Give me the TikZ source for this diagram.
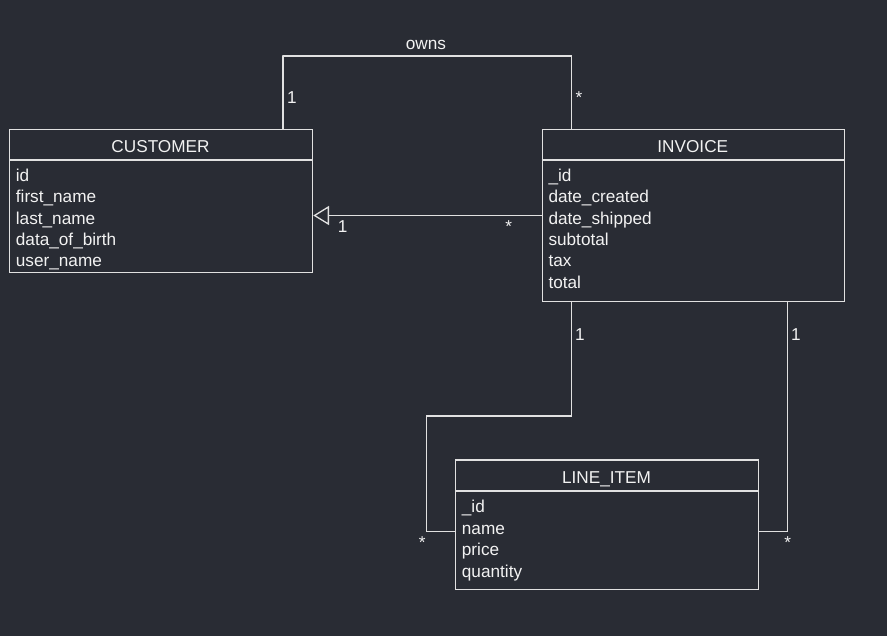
\documentclass[tikz,border=0pt]{standalone}
\usepackage{fontspec}
\setmainfont{Liberation Sans}
\usetikzlibrary{arrows.meta}
\definecolor{bgc}{RGB}{41,44,52}
\definecolor{lnc}{RGB}{225,225,225}
\definecolor{txc}{RGB}{242,242,242}
\begin{document}
\begin{tikzpicture}[x=1pt,y=-1pt,
  box/.style={draw=lnc,line width=1.3pt,fill=none,rectangle,inner sep=0pt,anchor=north west},
  sep/.style={draw=lnc,line width=1.3pt},
  conn/.style={draw=lnc,line width=1.3pt},
  txt/.style={text=txc,inner sep=0pt,font=\fontsize{17.2}{20}\selectfont},
  field/.style={txt,anchor=base west},
  head/.style={txt,anchor=base},
  lbl/.style={txt,anchor=base}]
\fill[bgc] (0,0) rectangle (887,636);
\useasboundingbox (0,0) rectangle (887,636);
% boxes
\node[box,minimum width=303pt,minimum height=143pt] (customer) at (9,128.7) {};
\node[box,minimum width=302.3pt,minimum height=172.3pt] (invoice) at (541.7,128.7) {};
\node[box,minimum width=303pt,minimum height=129.4pt] (lineitem) at (455,459.3) {};
% header separators
\draw[sep] ([yshift=-31.3pt]customer.north west) -- ([yshift=-31.3pt]customer.north east);
\draw[sep] ([yshift=-31.3pt]invoice.north west) -- ([yshift=-31.3pt]invoice.north east);
\draw[sep] ([yshift=-31.7pt]lineitem.north west) -- ([yshift=-31.7pt]lineitem.north east);
% headers
\node[head] (customer-h) at (160.5,152.3) {CUSTOMER};
\node[head] (invoice-h) at (692.8,152.3) {INVOICE};
\node[head] (lineitem-h) at (606.5,483.3) {LINE\_ITEM};
% fields
\foreach \t [count=\i] in {id,first\_name,last\_name,data\_of\_birth,user\_name}
  \node[field] (cf\i) at (15.7,{160+21.4*\i}) {\t};
\foreach \t [count=\i] in {\_id,date\_created,date\_shipped,subtotal,tax,total}
  \node[field] (if\i) at (548.3,{160+21.4*\i}) {\t};
\foreach \t [count=\i] in {\_id,name,price,quantity}
  \node[field] (lf\i) at (461.7,{491+21.5*\i}) {\t};
% connectors
\coordinate (ownsTop) at (282.3,56);
\draw[conn] ([xshift=121.8pt]customer.north) |- (ownsTop) -| ([xshift=-121.8pt]invoice.north);
\draw[conn,-{Triangle[length=15.7pt,width=19pt,fill=bgc,line width=1.3pt]}] (invoice.west) -- (customer.east |- invoice.west);
\coordinate (bend1) at (426.3,416);
\draw[conn] ([xshift=-121.8pt]invoice.south) |- (bend1) |- ([yshift=-6.7pt]lineitem.west);
\draw[conn] ([xshift=93.9pt]invoice.south) |- ([yshift=-7pt]lineitem.east);
% labels
\node[lbl] (owns) at (426,49.5) {owns};
\node[lbl] (o1) at (292,104) {1};
\node[lbl] (o2) at (579,104) {*};
\node[lbl] (g1) at (342.7,232.7) {1};
\node[lbl] (g2) at (508.7,232.5) {*};
\node[lbl] (a1) at (580,340.7) {1};
\node[lbl] (a2) at (422.3,548.7) {*};
\node[lbl] (b1) at (796,340.7) {1};
\node[lbl] (b2) at (787.7,548.7) {*};
\end{tikzpicture}
\end{document}
